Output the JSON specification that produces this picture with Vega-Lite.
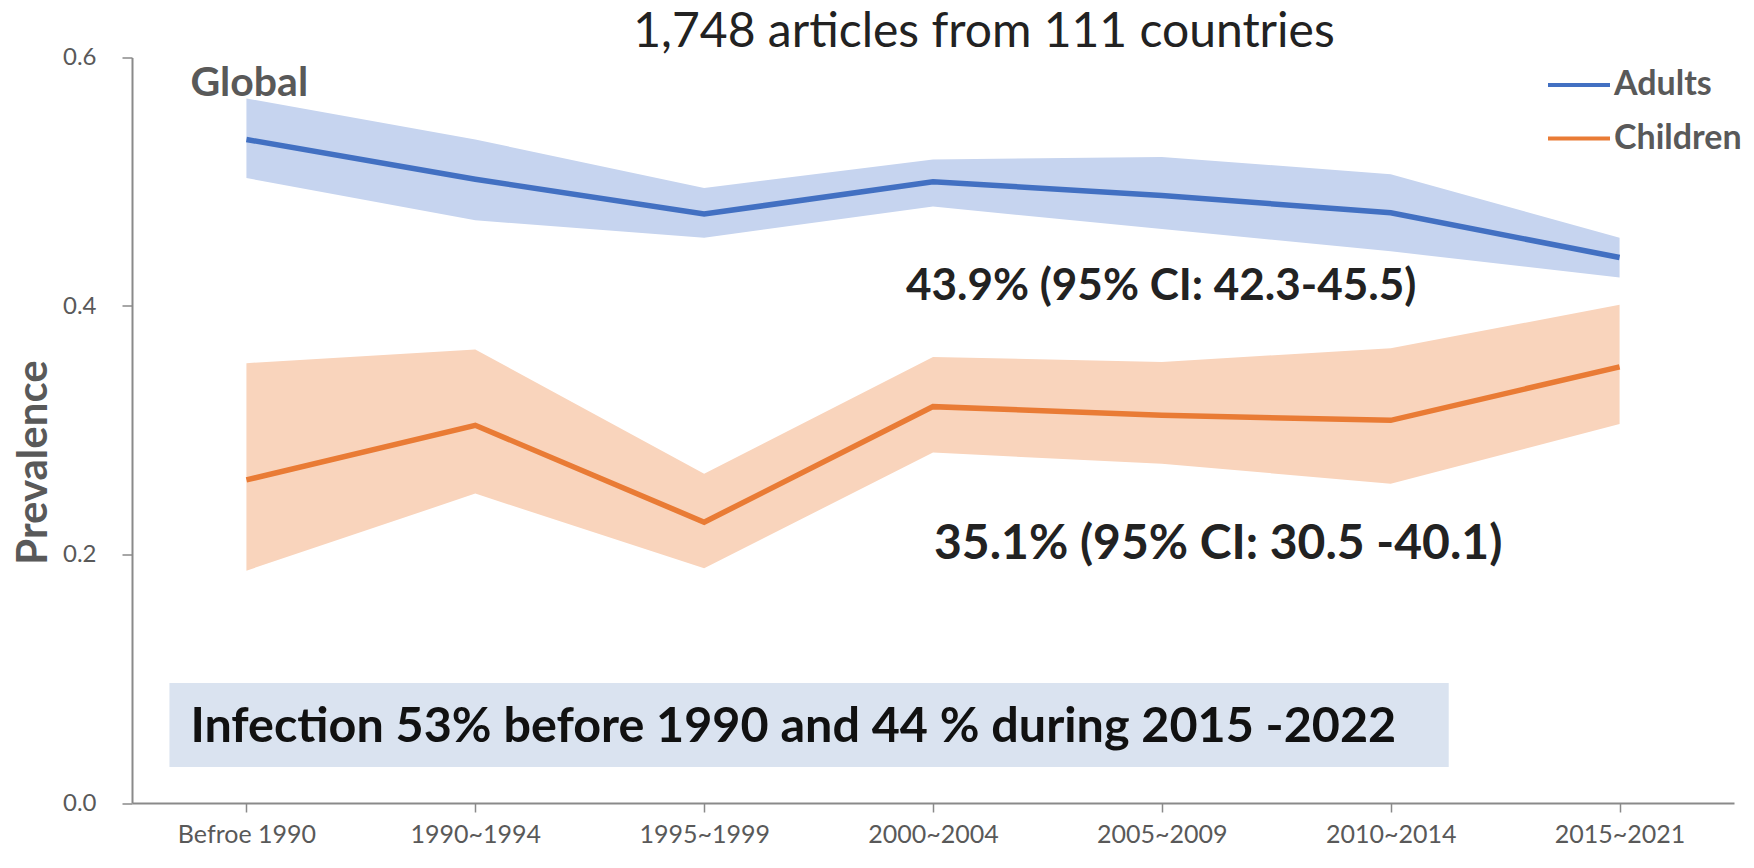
{
  "$schema": "https://vega.github.io/schema/vega-lite/v6.json",
  "width": 1602,
  "height": 745.5,
  "autosize": "none",
  "padding": {"left": 132, "top": 57.5, "right": 20, "bottom": 65},
  "background": "white",
  "config": {"view": {"stroke": null}, "font": "Lato"},
  "data": {
    "values": [
      {"period": "Befroe 1990", "group": "Adults", "est": 0.534, "lo": 0.503, "hi": 0.567},
      {"period": "1990~1994", "group": "Adults", "est": 0.502, "lo": 0.469, "hi": 0.534},
      {"period": "1995~1999", "group": "Adults", "est": 0.474, "lo": 0.455, "hi": 0.495},
      {"period": "2000~2004", "group": "Adults", "est": 0.500, "lo": 0.480, "hi": 0.518},
      {"period": "2005~2009", "group": "Adults", "est": 0.489, "lo": 0.462, "hi": 0.520},
      {"period": "2010~2014", "group": "Adults", "est": 0.475, "lo": 0.444, "hi": 0.506},
      {"period": "2015~2021", "group": "Adults", "est": 0.439, "lo": 0.423, "hi": 0.455},
      {"period": "Befroe 1990", "group": "Children", "est": 0.260, "lo": 0.187, "hi": 0.354},
      {"period": "1990~1994", "group": "Children", "est": 0.304, "lo": 0.249, "hi": 0.365},
      {"period": "1995~1999", "group": "Children", "est": 0.226, "lo": 0.189, "hi": 0.265},
      {"period": "2000~2004", "group": "Children", "est": 0.319, "lo": 0.282, "hi": 0.359},
      {"period": "2005~2009", "group": "Children", "est": 0.312, "lo": 0.273, "hi": 0.355},
      {"period": "2010~2014", "group": "Children", "est": 0.308, "lo": 0.257, "hi": 0.366},
      {"period": "2015~2021", "group": "Children", "est": 0.351, "lo": 0.305, "hi": 0.401}
    ]
  },
  "encoding": {
    "x": {
      "field": "period",
      "type": "ordinal",
      "sort": null,
      "scale": {
        "type": "point",
        "padding": 0.5,
        "domain": ["Befroe 1990", "1990~1994", "1995~1999", "2000~2004", "2005~2009", "2010~2014", "2015~2021"]
      },
      "axis": {
        "title": null,
        "labelAngle": 0,
        "labelFont": "Lato",
        "labelFontSize": 25,
        "labelColor": "#595959",
        "labelPadding": 10,
        "domainColor": "#8a8a8a",
        "domainWidth": 2,
        "tickColor": "#8a8a8a",
        "tickWidth": 1.5,
        "tickSize": 9,
        "grid": false
      }
    }
  },
  "layer": [
    {
      "mark": {"type": "rect", "fill": "#DAE3F0", "xOffset": -77, "x2Offset": 58},
      "data": {"values": [{}]},
      "encoding": {
        "x": {"datum": "Befroe 1990"},
        "x2": {"datum": "2010~2014"},
        "y": {"datum": 0.0966, "type": "quantitative"},
        "y2": {"datum": 0.029}
      }
    },
    {
      "mark": {"type": "area", "opacity": 1},
      "encoding": {
        "y": {
          "field": "lo",
          "type": "quantitative",
          "scale": {"domain": [0, 0.6], "nice": false},
          "axis": {
            "title": "Prevalence",
            "values": [0, 0.2, 0.4, 0.6],
            "format": ".1f",
            "labelFont": "Lato",
            "labelFontSize": 24,
            "labelColor": "#595959",
            "labelPadding": 26,
            "domainColor": "#8a8a8a",
            "domainWidth": 2,
            "tickColor": "#8a8a8a",
            "tickWidth": 1.5,
            "tickSize": 10,
            "grid": false,
            "titleFont": "Lato",
            "titleFontSize": 42,
            "titleFontWeight": "bold",
            "titleColor": "#595959",
            "titleAngle": 270,
            "titleAlign": "center",
            "titleBaseline": "middle",
            "titleX": -99,
            "titleY": 404.5
          }
        },
        "y2": {"field": "hi"},
        "fill": {
          "field": "group",
          "type": "nominal",
          "scale": {"range": ["#C6D4EF", "#F9D4BC"]},
          "legend": null
        }
      }
    },
    {
      "mark": {"type": "line", "strokeWidth": 5.5},
      "encoding": {
        "y": {"field": "est", "type": "quantitative"},
        "stroke": {
          "field": "group",
          "type": "nominal",
          "scale": {"domain": ["Adults", "Children"], "range": ["#4270C2", "#E97B35"]},
          "legend": {
            "title": null,
            "orient": "none",
            "legendX": 1414,
            "legendY": -5.5,
            "symbolType": "stroke",
            "symbolSize": 3844,
            "symbolStrokeWidth": 4,
            "labelFont": "Lato",
            "labelFontSize": 34,
            "labelFontWeight": "bold",
            "labelColor": "#595959",
            "labelOffset": 2,
            "rowPadding": 3.5
          }
        }
      }
    },
    {
      "mark": {"type": "text", "text": "1,748 articles from 111 countries", "font": "Lato", "fontSize": 48, "fontWeight": "normal", "color": "#222222", "align": "center", "baseline": "middle", "dx": 51},
      "data": {"values": [{}]},
      "encoding": {
        "x": {"datum": "2000~2004"},
        "y": {"datum": 0.62, "type": "quantitative"}
      }
    },
    {
      "mark": {"type": "text", "text": "Global", "font": "Lato", "fontSize": 41, "fontWeight": "bold", "color": "#595959", "align": "left", "baseline": "middle", "dx": -56},
      "data": {"values": [{}]},
      "encoding": {
        "x": {"datum": "Befroe 1990"},
        "y": {"datum": 0.5787, "type": "quantitative"}
      }
    },
    {
      "mark": {"type": "text", "text": "43.9% (95% CI: 42.3-45.5)", "font": "Lato", "fontSize": 44, "fontWeight": "bold", "color": "#222222", "align": "left", "baseline": "middle", "dx": -27},
      "data": {"values": [{}]},
      "encoding": {
        "x": {"datum": "2000~2004"},
        "y": {"datum": 0.4149, "type": "quantitative"}
      }
    },
    {
      "mark": {"type": "text", "text": "35.1% (95% CI: 30.5 -40.1)", "font": "Lato", "fontSize": 48, "fontWeight": "bold", "color": "#222222", "align": "left", "baseline": "middle", "dx": 1},
      "data": {"values": [{}]},
      "encoding": {
        "x": {"datum": "2000~2004"},
        "y": {"datum": 0.2078, "type": "quantitative"}
      }
    },
    {
      "mark": {"type": "text", "text": "Infection 53% before 1990 and 44 % during 2015 -2022", "font": "Lato", "fontSize": 48.5, "fontWeight": "bold", "color": "#111111", "align": "left", "baseline": "middle", "dx": -56},
      "data": {"values": [{}]},
      "encoding": {
        "x": {"datum": "Befroe 1990"},
        "y": {"datum": 0.0612, "type": "quantitative"}
      }
    }
  ]
}
